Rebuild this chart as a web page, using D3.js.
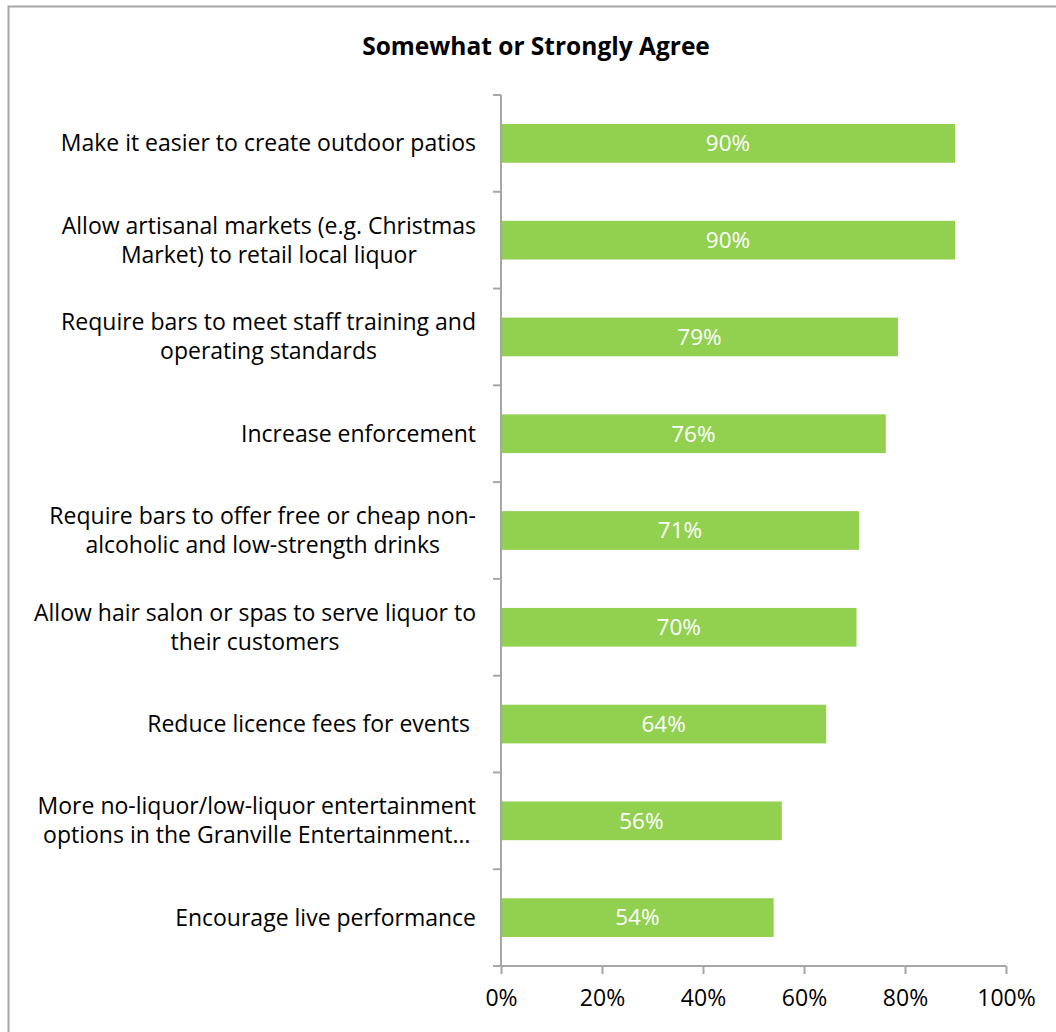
<!DOCTYPE html>
<html lang="en">
<head>
  <meta charset="UTF-8">
  <title>Somewhat or Strongly Agree</title>
  <script src="https://d3js.org/d3.v7.min.js"></script>
  <style>
    body { margin: 0; background: #fff; }
    svg { display: block; font-family: "Open Sans", "Noto Sans", sans-serif; }
    .cat { font-size: 23px; fill: #000; white-space: pre; }
    .bar { fill: #92d050; }
    .bar-label { fill: #fff; font-size: 22.5px; text-anchor: middle; }
    .axis path, .axis line { stroke: #a6a6a6; stroke-width: 2; }
    .axis text { font-size: 23px; fill: #000; font-family: "Open Sans", "Noto Sans", sans-serif; }
  </style>
</head>
<body>
  <svg width="1056" height="1032"></svg>

  <script>
    const categories = [
      ['Make it easier to create outdoor patios'],
      ['Allow artisanal markets (e.g. Christmas', 'Market) to retail local liquor'],
      ['Require bars to meet staff training and', 'operating standards'],
      ['Increase enforcement'],
      ['Require bars to offer free or cheap non-', 'alcoholic and low-strength drinks'],
      ['Allow hair salon or spas to serve liquor to', 'their customers'],
      ['Reduce licence fees for events '],
      ['More no-liquor/low-liquor entertainment', 'options in the Granville Entertainment…'],
      ['Encourage live performance']
    ];
    const values = [89.9, 89.9, 78.6, 76.2, 70.9, 70.4, 64.4, 55.6, 54.0];
    const xTicks = [0, 20, 40, 60, 80, 100];

    const svg = d3.select('svg');

    // chart frame
    svg.append('rect')
      .attr('x', 8.5).attr('y', 6.5)
      .attr('width', 1060).attr('height', 1040)
      .attr('fill', 'none').attr('stroke', '#a6a6a6').attr('stroke-width', 2);

    svg.append('text')
      .attr('x', 536).attr('y', 55)
      .attr('text-anchor', 'middle')
      .style('font-size', '24.5px').style('font-weight', 'bold')
      .text('Somewhat or Strongly Agree');

    const plotLeft = 501, plotRight = 1006, plotTop = 95, plotBottom = 966;

    const x = d3.scaleLinear().domain([0, 100]).range([plotLeft, plotRight]);
    const y = d3.scaleBand().domain(d3.range(categories.length)).range([plotTop, plotBottom]).paddingInner(0.6).paddingOuter(0.3);
    const yb = d3.scaleBand().domain(d3.range(categories.length)).range([plotTop, plotBottom]);

    // bars
    svg.selectAll('.bar').data(values).enter()
      .append('rect').attr('class', 'bar')
      .attr('x', x(0))
      .attr('y', (_, i) => y(i))
      .attr('width', d => x(d) - x(0))
      .attr('height', y.bandwidth());

    svg.selectAll('.bar-label').data(values).enter()
      .append('text').attr('class', 'bar-label')
      .attr('x', d => (x(0) + x(d)) / 2)
      .attr('y', (_, i) => y(i) + y.bandwidth() / 2)
      .attr('dy', '0.35em')
      .text(d => Math.round(d) + '%');

    // x axis
    const xAxis = svg.append('g').attr('class', 'axis')
      .attr('transform', `translate(0,${plotBottom})`)
      .call(d3.axisBottom(x).tickValues(xTicks).tickSize(8).tickSizeOuter(0).tickPadding(16).tickFormat(d => d + '%'));
    xAxis.select('.domain').attr('d', `M${plotLeft - 8},0H${plotRight}`);

    // y axis: ticks at band boundaries
    const yAxis = svg.append('g').attr('class', 'axis');
    yAxis.append('line').attr('x1', plotLeft).attr('x2', plotLeft).attr('y1', plotTop).attr('y2', plotBottom);
    yAxis.selectAll('.yt').data(d3.range(categories.length)).enter()
      .append('line').attr('class', 'yt')
      .attr('x1', plotLeft - 8).attr('x2', plotLeft)
      .attr('y1', d => yb(d)).attr('y2', d => yb(d));

    // category labels: block right-aligned, lines centred within block
    const labelRight = 476;
    categories.forEach((lines, i) => {
      const cy = yb(i) + yb.bandwidth() / 2;
      const g = svg.append('g');
      const texts = lines.map((l, j) => g.append('text').attr('class', 'cat')
        .attr('y', cy + (j - (lines.length - 1) / 2) * 29)
        .attr('dy', '0.35em').text(l));
      const w = d3.max(texts, t => t.node().getComputedTextLength());
      texts.forEach(t => t.attr('x', labelRight - w / 2).attr('text-anchor', 'middle'));
    });
  </script>
</body>
</html>
